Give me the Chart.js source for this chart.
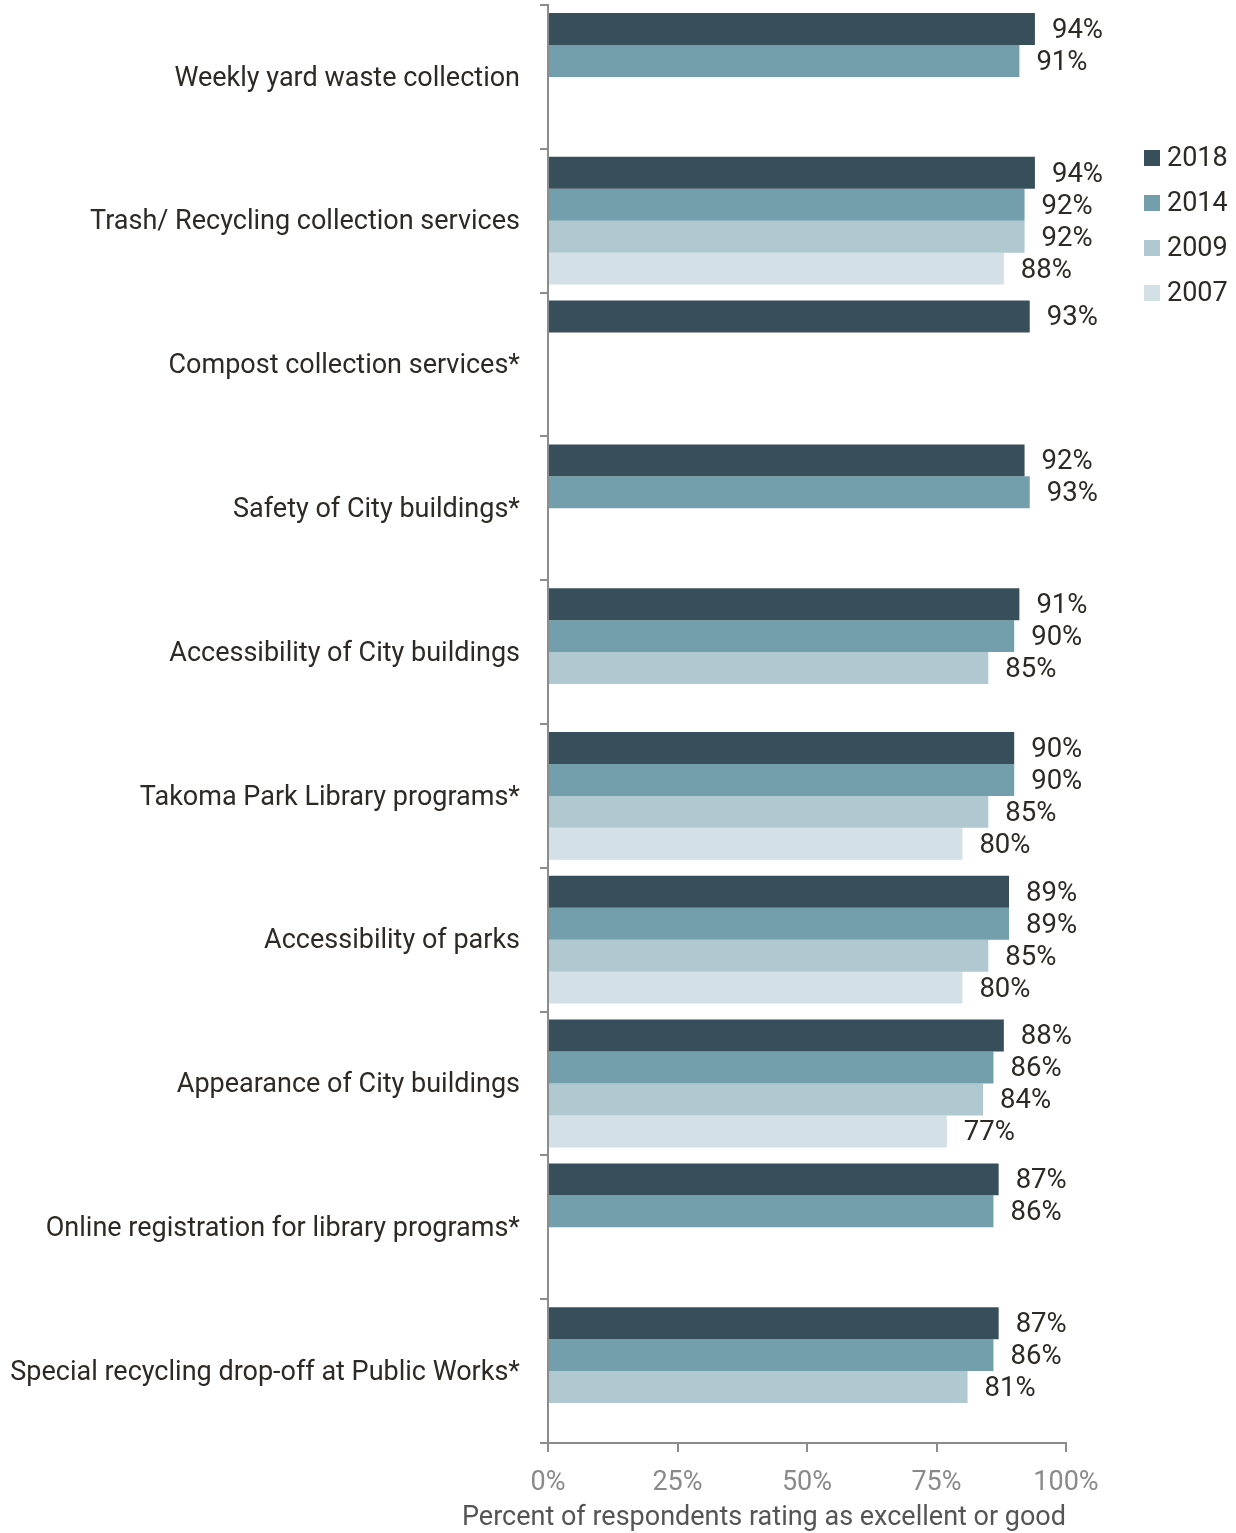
<!DOCTYPE html>
<html>
<head>
<meta charset="utf-8">
<script src="https://cdn.jsdelivr.net/npm/chart.js@4"></script>
<style>
  html, body { margin: 0; padding: 0; background: #fff; }
  #wrap { position: relative; width: 1236px; height: 1533px; }
</style>
</head>
<body>
<div id="wrap"><canvas id="chart" width="1236" height="1533"></canvas></div>
<script>
// chart data
const categories = [
    'Weekly yard waste collection',
    'Trash/ Recycling collection services',
    'Compost collection services*',
    'Safety of City buildings*',
    'Accessibility of City buildings',
    'Takoma Park Library programs*',
    'Accessibility of parks',
    'Appearance of City buildings',
    'Online registration for library programs*',
    'Special recycling drop-off at Public Works*'
];
const years = ['2018', '2014', '2009', '2007'];
const values2018 = [94, 94, 93, 92, 91, 90, 89, 88, 87, 87];
const values2014 = [91, 92, null, 93, 90, 90, 89, 86, 86, 86];
const values2009 = [null, 92, null, null, 85, 85, 85, 84, null, 81];
const values2007 = [null, 88, null, null, null, 80, 80, 77, null, null];
const xTicks = [0, 25, 50, 75, 100];
const xTitle = 'Percent of respondents rating as excellent or good';
const colors = ['#374f5a', '#739fad', '#b0c9d0', '#d3e0e5'];

const FONT = 'Roboto, "Noto Sans", sans-serif';

// labels at the end of each bar
const barLabels = {
    id: 'barLabels',
    afterDatasetsDraw(chart) {
        const ctx = chart.ctx;
        ctx.save();
        ctx.font = '27.5px ' + FONT;
        ctx.fillStyle = '#2d2a25';
        ctx.textAlign = 'left';
        ctx.textBaseline = 'middle';
        chart.data.datasets.forEach((ds, i) => {
            chart.getDatasetMeta(i).data.forEach((bar, j) => {
                if (ds.data[j] == null) return;
                ctx.fillText(ds.data[j] + '%', bar.x + 17, bar.y + 2);
            });
        });
        ctx.restore();
    }
};

// legend on the right side + x axis title (drawn without squashing)
const sideLegend = {
    id: 'sideLegend',
    afterDraw(chart) {
        const ctx = chart.ctx;
        ctx.save();
        ctx.font = '27px ' + FONT;
        ctx.textBaseline = 'middle';
        chart.data.datasets.forEach((ds, i) => {
            let y = 158 + i * 45;
            ctx.fillStyle = ds.backgroundColor;
            ctx.fillRect(1144, y - 8, 16, 16);
            ctx.fillStyle = '#2d2a25';
            ctx.fillText(ds.label, 1167, y + 1);
        });

        ctx.fillStyle = '#555';
        ctx.textAlign = 'right';
        ctx.fillText(xTitle, chart.chartArea.right, 1518);
        ctx.restore();
    }
};

let seriesValues = [values2018, values2014, values2009, values2007];

let ctx = document.getElementById('chart');
let chart = new Chart(ctx, {
    type: 'bar',
    data: {
        labels: categories,
        datasets: years.map((y, i) => ({
            label: y,
            data: seriesValues[i],
            backgroundColor: colors[i],
            categoryPercentage: 128 / 144,
            barPercentage: 1
        }))
    },
    options: {
        indexAxis: 'y',
        responsive: false,
        animation: false,
        layout: {
            padding: { top: 5, right: 170, left: 0, bottom: 0 }
        },
        plugins: {
            legend: { display: false },
            tooltip: { enabled: false }
        },
        scales: {
            x: {
                min: 0,
                max: 100,
                afterBuildTicks(scale) {
                    scale.ticks = xTicks.map(v => ({ value: v }));
                },
                afterFit(scale) { scale.height = 90; },
                border: { color: '#8c8c8c', width: 2 },
                grid: { drawOnChartArea: false, drawTicks: true, tickLength: 9, color: '#8c8c8c', lineWidth: 2 },
                ticks: {
                    callback: v => v + '%',
                    color: '#8a8a8a',
                    padding: 15,
                    maxRotation: 0,
                    font: { family: FONT, size: 27 }
                }
            },
            y: {
                afterFit(scale) {
                    scale.width = 548;
                    scale.paddingTop = 0;
                    scale.paddingBottom = 0;
                },
                border: { color: '#8c8c8c', width: 2 },
                grid: { drawOnChartArea: false, drawTicks: true, tickLength: 8, color: '#8c8c8c', lineWidth: 2 },
                ticks: {
                    color: '#2d2a25',
                    padding: 20,
                    labelOffset: 2,
                    font: { family: FONT, size: 27 }
                }
            }
        }
    },
    plugins: [barLabels, sideLegend]
});
</script>
</body>
</html>
